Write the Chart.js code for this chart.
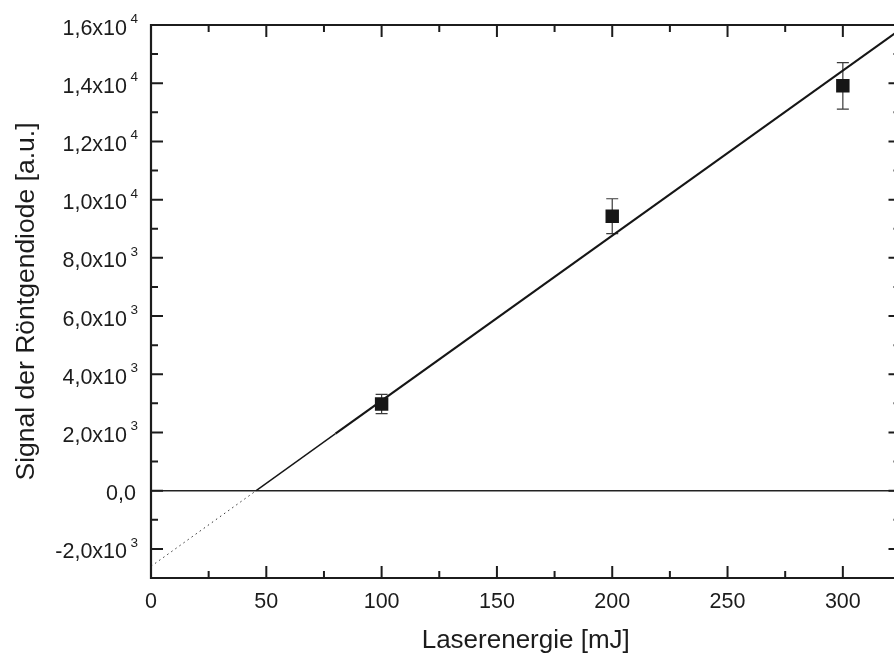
<!DOCTYPE html>
<html>
<head>
<meta charset="utf-8">
<script src="https://cdn.jsdelivr.net/npm/chart.js@4/dist/chart.umd.min.js"></script>
<style>
  html, body { margin: 0; padding: 0; background: #fff; overflow: hidden; }
  #wrap { width: 910px; height: 656px; }
</style>
</head>
<body>
<div id="wrap"><canvas id="c" width="910" height="656"></canvas></div>
<script>
// ---- data ----
const energies = [100, 200, 300];                 // Laserenergie [mJ]
const signals = [2980, 9430, 13910];              // Signal [a.u.]
const signalErrors = [330, 600, 800];             // error bar half-heights

// linear fit line, read at its ends and break points
const fitDottedX = [0, 45.6];
const fitDottedY = [-2600, 0];
const fitThinX = [45.6, 80];
const fitThinY = [0, 1960];
const fitThickX = [80, 325];
const fitThickY = [1960, 15850];

const zeroLineX = [0, 325];
const zeroLineY = [0, 0];

// axes and ticks
const xMin = 0, xMax = 325;
const yMin = -3000, yMax = 16000;
const xMajorTicks = [0, 50, 100, 150, 200, 250, 300];
const xMinorTicks = [25, 75, 125, 175, 225, 275];
const yMajorTicks = [-2000, 0, 2000, 4000, 6000, 8000, 10000, 12000, 14000, 16000];
const yMinorTicks = [-1000, 1000, 3000, 5000, 7000, 9000, 11000, 13000, 15000];
const yTickMantissa = ['-2,0x10', '0,0', '2,0x10', '4,0x10', '6,0x10', '8,0x10', '1,0x10', '1,2x10', '1,4x10', '1,6x10'];
const yTickExponent = ['3', '', '3', '3', '3', '3', '4', '4', '4', '4'];

const xTitle = 'Laserenergie [mJ]';
const yTitle = 'Signal der Röntgendiode [a.u.]';

const FONT = '"Liberation Sans", Arial, Helvetica, sans-serif';
const INK = '#1c1c1c';

function pts(xs, ys) { return xs.map((x, i) => ({ x: x, y: ys[i] })); }

const errorBars = {
  id: 'errorBars',
  beforeDatasetsDraw(chart) {
    const ctx = chart.ctx, xs = chart.scales.x, ys = chart.scales.y;
    ctx.save();
    ctx.strokeStyle = '#3a3a3a';
    ctx.lineWidth = 1.2;
    energies.forEach((e, i) => {
      const px = xs.getPixelForValue(e);
      const top = ys.getPixelForValue(signals[i] + signalErrors[i]);
      const bot = ys.getPixelForValue(signals[i] - signalErrors[i]);
      ctx.beginPath();
      ctx.moveTo(px, top); ctx.lineTo(px, bot);
      ctx.moveTo(px - 6, top); ctx.lineTo(px + 6, top);
      ctx.moveTo(px - 6, bot); ctx.lineTo(px + 6, bot);
      ctx.stroke();
    });
    ctx.restore();
  }
};

const frame = {
  id: 'frame',
  afterDraw(chart) {
    const ctx = chart.ctx, xs = chart.scales.x, ys = chart.scales.y;
    const a = chart.chartArea;
    ctx.save();
    ctx.strokeStyle = INK;
    ctx.lineWidth = 2.2;
    ctx.beginPath();
    ctx.rect(a.left, a.top, a.right - a.left, a.bottom - a.top);
    ctx.stroke();
    ctx.lineWidth = 2;
    const maj = 12, min = 7;
    ctx.beginPath();
    xMajorTicks.concat(xMinorTicks).forEach((v) => {
      const L = xMajorTicks.includes(v) ? maj : min;
      const px = xs.getPixelForValue(v);
      ctx.moveTo(px, a.bottom); ctx.lineTo(px, a.bottom - L);
      ctx.moveTo(px, a.top); ctx.lineTo(px, a.top + L);
    });
    yMajorTicks.concat(yMinorTicks).forEach((v) => {
      const L = yMajorTicks.includes(v) ? maj : min;
      const py = ys.getPixelForValue(v);
      ctx.moveTo(a.left, py); ctx.lineTo(a.left + L, py);
      ctx.moveTo(a.right, py); ctx.lineTo(a.right - L, py);
    });
    ctx.stroke();

    // y tick labels with superscript exponents
    ctx.fillStyle = INK;
    yMajorTicks.forEach((v, i) => {
      const py = ys.getPixelForValue(v);
      ctx.textBaseline = 'alphabetic';
      if (yTickExponent[i]) {
        ctx.font = '21.5px ' + FONT;
        ctx.textAlign = 'right';
        ctx.fillText(yTickMantissa[i], 127, py + 9.5);
        ctx.font = '13.5px ' + FONT;
        ctx.textAlign = 'left';
        ctx.fillText(yTickExponent[i], 130.5, py - 2);
      } else {
        ctx.font = '21.5px ' + FONT;
        ctx.textAlign = 'right';
        ctx.fillText(yTickMantissa[i], 136, py + 9);
      }
    });
    ctx.restore();
  }
};

new Chart(document.getElementById('c'), {
  type: 'scatter',
  data: {
    datasets: [
      {
        label: 'Messwerte',
        data: pts(energies, signals),
        pointStyle: 'rect',
        pointRadius: 9.5,
        backgroundColor: '#161616',
        borderWidth: 0,
        showLine: false
      },
      {
        label: 'Fit',
        data: pts(fitThickX, fitThickY),
        showLine: true,
        borderColor: '#161616',
        borderWidth: 2.2,
        pointRadius: 0
      },
      {
        label: 'Fit dünn',
        data: pts(fitThinX, fitThinY),
        showLine: true,
        borderColor: '#161616',
        borderWidth: 1.4,
        pointRadius: 0
      },
      {
        label: 'Fit extrapoliert',
        data: pts(fitDottedX, fitDottedY),
        showLine: true,
        borderColor: '#333',
        borderWidth: 1,
        borderDash: [1.5, 3.5],
        pointRadius: 0
      },
      {
        label: 'Null',
        data: pts(zeroLineX, zeroLineY),
        showLine: true,
        borderColor: '#222',
        borderWidth: 1.4,
        pointRadius: 0
      }
    ]
  },
  options: {
    responsive: false,
    animation: false,
    devicePixelRatio: 1,
    layout: { padding: { top: 25, right: 8, left: 0, bottom: 0 } },
    plugins: { legend: { display: false }, tooltip: { enabled: false } },
    scales: {
      x: {
        type: 'linear',
        min: xMin, max: xMax,
        grid: { display: false, drawTicks: false },
        border: { display: false },
        ticks: {
          stepSize: 50,
          includeBounds: false,
          font: { size: 21.5, family: FONT },
          color: INK,
          padding: 11,
          maxRotation: 0
        },
        title: {
          display: true,
          text: xTitle,
          font: { size: 26, family: FONT },
          color: INK,
          padding: { top: 0, bottom: 0 }
        },
        afterFit(s) { s.height = 78; }
      },
      y: {
        type: 'linear',
        min: yMin, max: yMax,
        grid: { display: false, drawTicks: false },
        border: { display: false },
        ticks: { display: false },
        title: {
          display: true,
          text: yTitle,
          font: { size: 26.5, family: FONT },
          color: INK,
          padding: { top: 11, bottom: 0 }
        },
        afterFit(s) { s.width = 151; }
      }
    }
  },
  plugins: [errorBars, frame]
});
</script>
</body>
</html>
